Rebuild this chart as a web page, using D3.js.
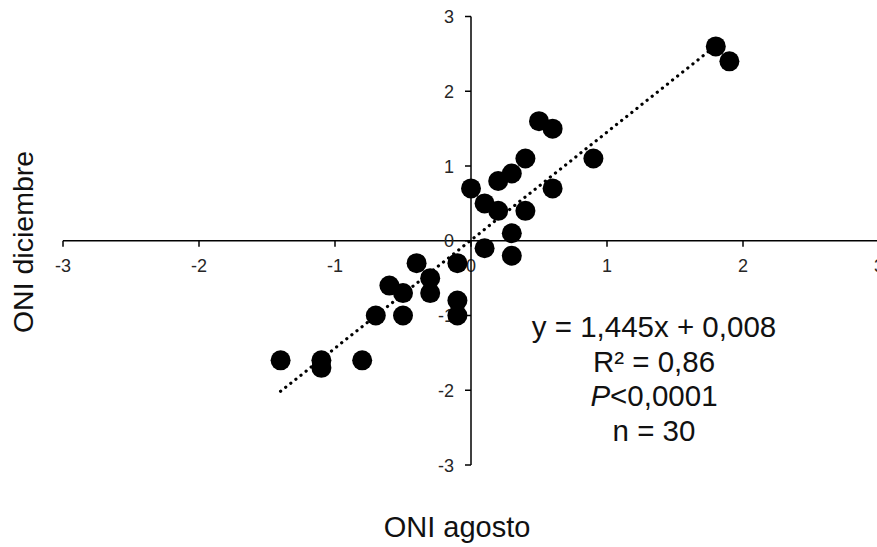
<!DOCTYPE html>
<html>
<head>
<meta charset="utf-8">
<script src="https://cdn.jsdelivr.net/npm/d3@7"></script>
<style>
  html, body { margin: 0; padding: 0; background: #fff; }
  svg { display: block; font-family: Arial, "Liberation Sans", sans-serif; }
</style>
</head>
<body>
<svg id="chart" width="877" height="547"></svg>
<script>
// ONI agosto (x) vs ONI diciembre (y)
const oniAgosto = [1.8, 1.9, 0.5, 0.6, 0.4, 0.9, 0.3, 0.2, 0.0, 0.6,
                   0.1, 0.2, 0.4, 0.3, 0.1, 0.3, -0.4, -0.1, -0.3, -0.6,
                   -0.5, -0.3, -0.1, -0.1, -0.7, -0.5, -1.4, -1.1, -1.1, -0.8];
const oniDiciembre = [2.6, 2.4, 1.6, 1.5, 1.1, 1.1, 0.9, 0.8, 0.7, 0.7,
                      0.5, 0.4, 0.4, 0.1, -0.1, -0.2, -0.3, -0.3, -0.5, -0.6,
                      -0.7, -0.7, -0.8, -1.0, -1.0, -1.0, -1.6, -1.6, -1.7, -1.6];
const xTicks = [-3, -2, -1, 0, 1, 2, 3];
const yTicks = [-3, -2, -1, 0, 1, 2, 3];
const slope = 1.445, intercept = 0.008;
const trendRange = [-1.4, 1.8];
const annotation = ["y = 1,445x + 0,008", "R² = 0,86", "P<0,0001", "n = 30"];
const xTitle = "ONI agosto";
const yTitle = "ONI diciembre";

const svg = d3.select("#chart");
const x = d3.scaleLinear().domain([-3, 3]).range([63, 879]);
const y = d3.scaleLinear().domain([-3, 3]).range([465, 16.5]);

// x axis (through y=0)
const xAxis = svg.append("g").attr("transform", `translate(0,${y(0)})`);
xAxis.append("line").attr("x1", x(-3)).attr("x2", 877).attr("stroke", "#000").attr("stroke-width", 1.5);
xAxis.selectAll("line.t").data(xTicks).join("line").attr("class", "t")
  .attr("x1", d => x(d)).attr("x2", d => x(d)).attr("y1", 0).attr("y2", 6)
  .attr("stroke", "#000").attr("stroke-width", 1.5);
xAxis.selectAll("text").data(xTicks).join("text")
  .attr("x", d => x(d)).attr("y", 31.5).attr("text-anchor", "middle")
  .attr("font-size", 18).attr("fill", "#262626").text(d => d);

// y axis (through x=0)
const yAxis = svg.append("g").attr("transform", `translate(${x(0)},0)`);
yAxis.append("line").attr("y1", y(3)).attr("y2", y(-3)).attr("stroke", "#000").attr("stroke-width", 1.5);
yAxis.selectAll("line.t").data(yTicks).join("line").attr("class", "t")
  .attr("y1", d => y(d)).attr("y2", d => y(d)).attr("x1", -6).attr("x2", 0)
  .attr("stroke", "#000").attr("stroke-width", 1.5);
yAxis.selectAll("text").data(yTicks).join("text")
  .attr("x", -17).attr("y", d => y(d) + 6.5).attr("text-anchor", "end")
  .attr("font-size", 18).attr("fill", "#262626").text(d => d);

// trend line
svg.append("line")
  .attr("x1", x(trendRange[0])).attr("y1", y(slope * trendRange[0] + intercept))
  .attr("x2", x(trendRange[1])).attr("y2", y(slope * trendRange[1] + intercept))
  .attr("stroke", "#000").attr("stroke-width", 3.2)
  .attr("stroke-linecap", "round").attr("stroke-dasharray", "0.1,6.4");

// points
svg.append("g").selectAll("circle").data(oniAgosto.map((v, i) => [v, oniDiciembre[i]]))
  .join("circle")
  .attr("cx", d => x(d[0])).attr("cy", d => y(d[1])).attr("r", 10).attr("fill", "#000");

// annotation
const ann = svg.append("g").attr("transform", "translate(654,0)");
const annY = [337, 372, 406, 441];
annotation.forEach((t, i) => {
  const tx = ann.append("text").attr("x", 0).attr("y", annY[i]).attr("text-anchor", "middle")
    .attr("font-size", 29.5).attr("fill", "#111");
  if (t.startsWith("P")) {
    tx.append("tspan").attr("font-style", "italic").text("P");
    tx.append("tspan").text(t.slice(1));
  } else tx.text(t);
});

// titles
svg.append("text").attr("x", 457).attr("y", 537).attr("text-anchor", "middle")
  .attr("font-size", 29).attr("fill", "#111").text(xTitle);
svg.append("text").attr("transform", "translate(33,242) rotate(-90)").attr("text-anchor", "middle")
  .attr("font-size", 28.5).attr("fill", "#111").text(yTitle);
</script>
</body>
</html>
